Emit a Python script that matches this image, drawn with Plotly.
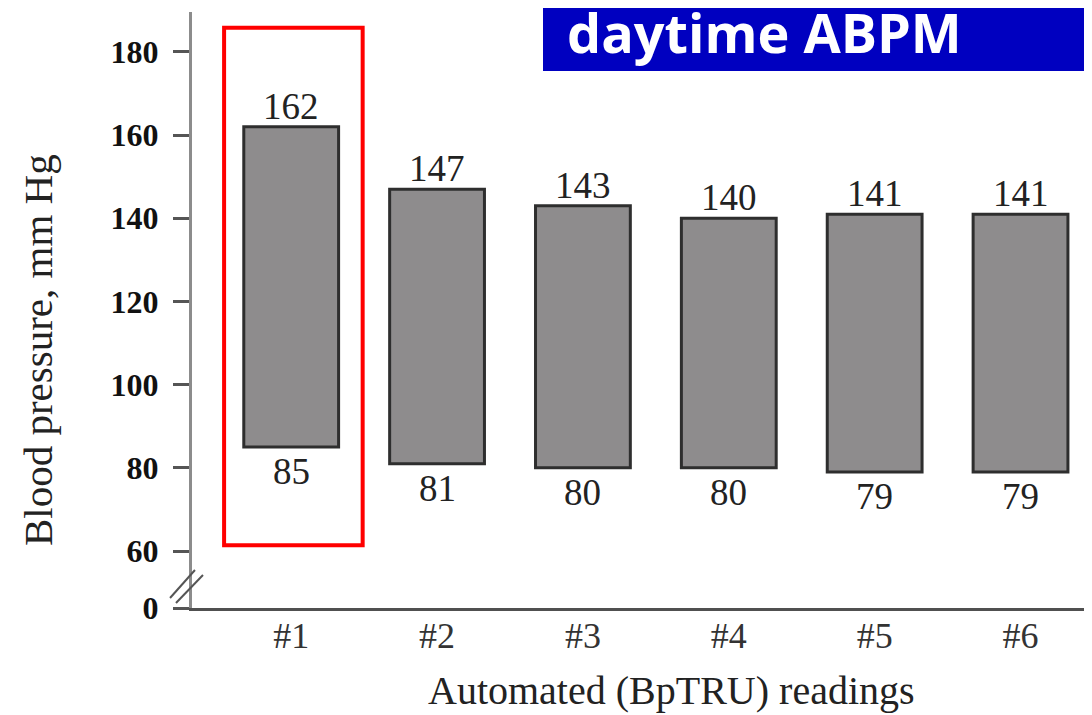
import plotly.graph_objects as go

readings = ["#1", "#2", "#3", "#4", "#5", "#6"]
systolic = [162, 147, 143, 140, 141, 141]
diastolic = [85, 81, 80, 80, 79, 79]

y_tick_vals = [46.3, 60, 80, 100, 120, 140, 160, 180]
y_tick_text = ["0", "60", "80", "100", "120", "140", "160", "180"]

serif = "Liberation Serif"

fig = go.Figure()
fig.add_trace(go.Bar(
    x=readings,
    y=[s - d for s, d in zip(systolic, diastolic)],
    base=diastolic,
    width=0.65,
    marker=dict(color="#8e8c8d", line=dict(color="#2e2e2e", width=3)),
    hoverinfo="skip",
))

annotations = []
for r, s, d in zip(readings, systolic, diastolic):
    annotations.append(dict(x=r, y=s, xref="x", yref="y", text=str(s), showarrow=False,
                            xanchor="center", yanchor="bottom", yshift=-2,
                            font=dict(family=serif, size=37, color="#222222")))
    annotations.append(dict(x=r, y=d, xref="x", yref="y", text=str(d), showarrow=False,
                            xanchor="center", yanchor="top", yshift=-2,
                            font=dict(family=serif, size=37, color="#222222")))

annotations += [
    dict(text="daytime ABPM", xref="paper", yref="paper", x=0.4144, y=0.966,
         xanchor="left", yanchor="middle", showarrow=False,
         font=dict(family="Open Sans", size=54, color="white", weight="bold")),
    dict(text="Blood pressure, mm Hg", xref="paper", yref="paper", x=-0.171, y=0.433,
         xanchor="center", yanchor="middle", textangle=-90, showarrow=False,
         font=dict(family=serif, size=41, color="#222222")),
    dict(text="Automated (BpTRU) readings", xref="paper", yref="paper", x=0.533, y=-0.138,
         xanchor="center", yanchor="middle", showarrow=False,
         font=dict(family=serif, size=40, color="#222222")),
]

fig.update_layout(
    width=1084, height=707,
    margin=dict(l=184, r=0, t=4, b=107),
    paper_bgcolor="white", plot_bgcolor="white",
    showlegend=False,
    xaxis=dict(
        range=[-0.68, 5.49], showgrid=False, zeroline=False,
        showline=True, linecolor="#505050", linewidth=3,
        ticks="", tickfont=dict(family=serif, size=36, color="#333333"),
        ticklabelstandoff=-6,
    ),
    yaxis=dict(
        range=[46.3, 189.6], showgrid=False, zeroline=False,
        showline=True, linecolor="#8c8c8c", linewidth=3,
        tickmode="array", tickvals=y_tick_vals, ticktext=y_tick_text,
        ticks="outside", ticklen=16, tickwidth=3, tickcolor="#555555",
        tickfont=dict(family=serif, size=32, color="#111111", weight="bold"),
        ticklabelstandoff=8,
    ),
    shapes=[
        dict(type="rect", xref="x", yref="y", x0=-0.46, x1=0.49, y0=61.4, y1=185.8,
             line=dict(color="#ff0000", width=4), fillcolor="rgba(0,0,0,0)", layer="above"),
        dict(type="line", xref="paper", yref="paper", x0=-0.0244, x1=0.0033, y0=0.0168, y1=0.0638,
             line=dict(color="#555555", width=2)),
        dict(type="line", xref="paper", yref="paper", x0=-0.0178, x1=0.0122, y0=0.0084, y1=0.0554,
             line=dict(color="#555555", width=2)),
        dict(type="rect", xref="paper", yref="paper", x0=0.39, x1=1.0, y0=0.901, y1=1.03,
             line=dict(width=0), fillcolor="#0000c0", layer="above"),
    ],
    annotations=annotations,
)

fig.write_html("out.html")
